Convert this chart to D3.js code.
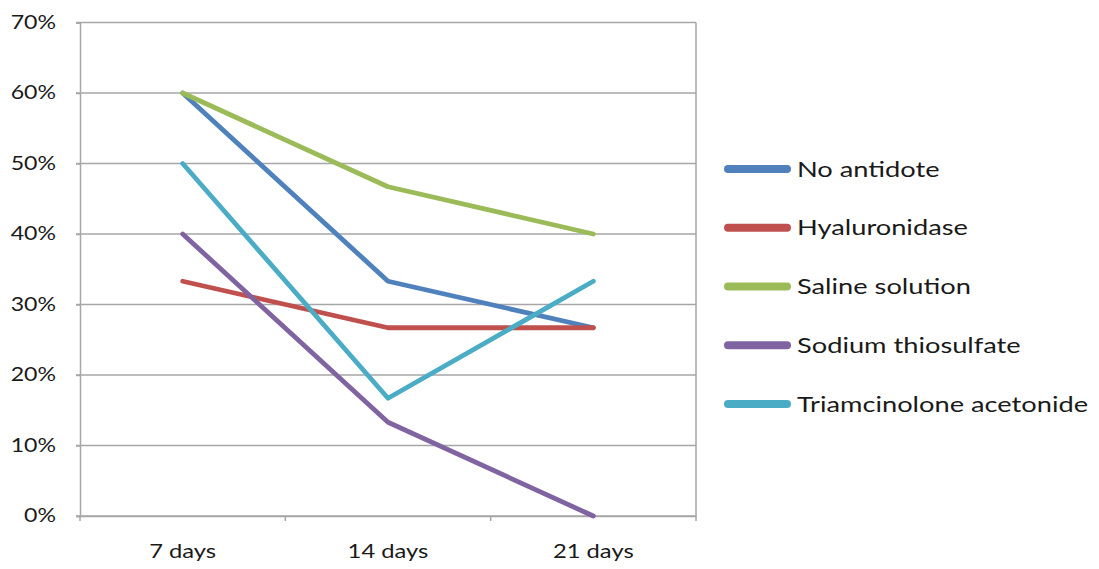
<!DOCTYPE html>
<html><head><meta charset="utf-8">
<script src="https://cdn.jsdelivr.net/npm/d3@7"></script>
<style>body{margin:0;background:#fff;} svg{display:block;}</style>
</head><body>
<svg id="c" width="1099" height="569"></svg>
<script>
const categories = ["7 days", "14 days", "21 days"];
const yTicks = [0, 10, 20, 30, 40, 50, 60, 70];
const seriesNames = ["No antidote", "Hyaluronidase", "Saline solution", "Sodium thiosulfate", "Triamcinolone acetonide"];
const noAntidote = [60, 33.3, 26.7];
const hyaluronidase = [33.3, 26.7, 26.7];
const saline = [60, 46.7, 40];
const sodiumThiosulfate = [40, 13.3, 0];
const triamcinolone = [50, 16.7, 33.3];
const colors = ["#4F81BD", "#C0504D", "#9BBB59", "#8064A2", "#4BACC6"];

const series = [noAntidote, hyaluronidase, saline, sodiumThiosulfate, triamcinolone];
const svg = d3.select("#c");
const L = 80, R = 696, T = 22.5, B = 516;
const font = "Lato, 'Open Sans', sans-serif";
const SX = 1.25;

const x = d3.scaleBand().domain(categories).range([L, R]);
const y = d3.scaleLinear().domain([0, 70]).range([B, T]);
const gridColor = "#a6a6a6";

// gridlines
svg.append("g").selectAll("line").data(yTicks).join("line")
  .attr("x1", L - 4).attr("x2", R).attr("y1", d => y(d)).attr("y2", d => y(d))
  .attr("stroke", gridColor).attr("stroke-width", 1.5);
// right border
svg.append("line").attr("x1", R).attr("x2", R).attr("y1", T).attr("y2", B)
  .attr("stroke", gridColor).attr("stroke-width", 1.5);

// y axis
const yAxis = svg.append("g").attr("transform", `translate(${L},0)`)
  .call(d3.axisLeft(y).tickValues(yTicks).tickFormat(d => d + "%").tickSize(4));
yAxis.select(".domain").attr("stroke", gridColor).attr("stroke-width", 1.5);
yAxis.selectAll(".tick line").attr("stroke", gridColor).attr("stroke-width", 1.5);
yAxis.selectAll("text").attr("x", 0).attr("transform", `translate(-24,0) scale(${SX},1)`)
  .attr("font-family", font).attr("font-size", 18.5).attr("fill", "#1a1a1a");

// x axis
const xAxis = svg.append("g").attr("transform", `translate(0,${B})`)
  .call(d3.axisBottom(x).tickSize(0).tickPadding(29));
xAxis.select(".domain").attr("stroke", gridColor).attr("stroke-width", 1.5);
xAxis.selectAll("text").attr("transform", `scale(${SX},1)`)
  .attr("font-family", font).attr("font-size", 19).attr("fill", "#1a1a1a");
// x boundary ticks
const bounds = [L, ...categories.map(c => x(c) + x.bandwidth())];
svg.append("g").selectAll("line").data(bounds).join("line")
  .attr("x1", d => d).attr("x2", d => d).attr("y1", B).attr("y2", B + 5)
  .attr("stroke", gridColor).attr("stroke-width", 1.5);

// lines
const line = d3.line().x((d, i) => x(categories[i]) + x.bandwidth() / 2).y(d => y(d));
svg.append("g").selectAll("path").data(series).join("path")
  .attr("d", d => line(d)).attr("fill", "none")
  .attr("stroke", (d, i) => colors[i]).attr("stroke-width", 4.8)
  .attr("stroke-linejoin", "round").attr("stroke-linecap", "round");

// legend
const lg = svg.append("g");
const ly = d3.scalePoint().domain(seriesNames).range([169, 404]);
seriesNames.forEach((n, i) => {
  lg.append("line").attr("x1", 728).attr("x2", 787).attr("y1", ly(n)).attr("y2", ly(n))
    .attr("stroke", colors[i]).attr("stroke-width", 8).attr("stroke-linecap", "round");
  lg.append("text").attr("transform", `translate(797,${ly(n)}) scale(${SX},1)`).attr("dy", "0.35em")
    .attr("font-family", font).attr("font-size", 21.8).attr("fill", "#1a1a1a").text(n);
});
</script>
</body></html>
